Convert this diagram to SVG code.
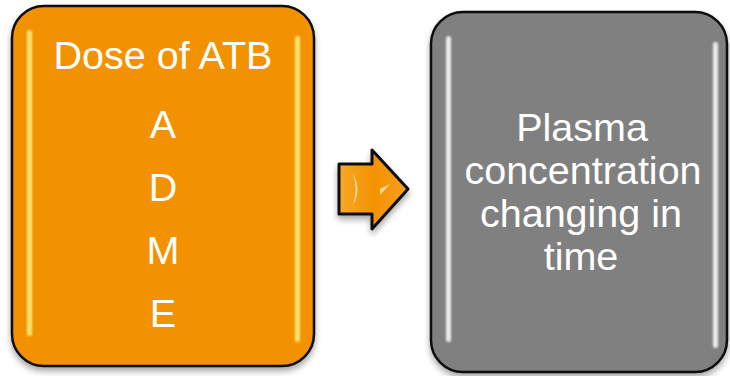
<svg xmlns="http://www.w3.org/2000/svg" width="730" height="376" viewBox="0 0 730 376">
<defs>
<filter id="sh" x="-10%" y="-10%" width="120%" height="120%">
<feGaussianBlur in="SourceAlpha" stdDeviation="3"/>
<feOffset dx="0" dy="4" result="b"/>
<feComponentTransfer><feFuncA type="linear" slope="0.35"/></feComponentTransfer>
<feMerge><feMergeNode/><feMergeNode in="SourceGraphic"/></feMerge>
</filter>
<filter id="bl" x="-200%" y="-5%" width="500%" height="110%"><feGaussianBlur stdDeviation="1.2"/></filter>
<linearGradient id="arr" x1="0" y1="0" x2="1" y2="0">
<stop offset="0" stop-color="#f7a92a"/>
<stop offset="0.5" stop-color="#f39200"/>
<stop offset="1" stop-color="#f7a020"/>
</linearGradient>
<style>
.box{stroke:#111;stroke-width:2.5}
.or{fill:#f39200}
.gr{fill:#808080}
.t{font-family:"Liberation Sans",Arial,sans-serif;font-size:39.5px;fill:#fff;text-anchor:middle}
.glO{fill:#ffee80;opacity:0.9}
.glG{fill:#ffffff;opacity:0.85}
</style>
</defs>
<g id="connectors">
<path d="M339,164 L372,164 L372,150 L408,189 L372,229 L372,214 L339,214 Z" fill="url(#arr)" stroke="#111" stroke-width="3" stroke-linejoin="round" filter="url(#sh)"/>
<path d="M353,174 Q362,189 353,205 Q358,189 353,174 Z" fill="#ffe9b0" opacity="0.8"/>
<path d="M380,189 L390,184 Q385,190 380,195 Z" fill="#ffe9b0" opacity="0.8"/>
</g>
<g id="node-dose">
<rect class="box or" x="12" y="6" width="302" height="360" rx="32" filter="url(#sh)"/>
<rect class="glO" x="27" y="30" width="5" height="306" rx="2.5" filter="url(#bl)"/>
<rect class="glO" x="295" y="36" width="5" height="306" rx="2.5" filter="url(#bl)"/>
<text class="t" x="163" y="69">Dose of ATB</text>
<text class="t" x="163" y="138">A</text>
<text class="t" x="163" y="201">D</text>
<text class="t" x="163" y="264">M</text>
<text class="t" x="163" y="327">E</text>
</g>
<g id="node-plasma">
<rect class="box gr" x="431" y="12" width="296" height="360" rx="32" filter="url(#sh)"/>
<rect class="glG" x="446" y="36" width="5" height="306" rx="2.5" filter="url(#bl)"/>
<rect class="glG" x="713" y="42" width="5" height="306" rx="2.5" filter="url(#bl)"/>
<text class="t" x="582" y="141">Plasma</text>
<text class="t" x="583" y="184">concentration</text>
<text class="t" x="581" y="227">changing in</text>
<text class="t" x="581" y="270">time</text>
</g>
</svg>
